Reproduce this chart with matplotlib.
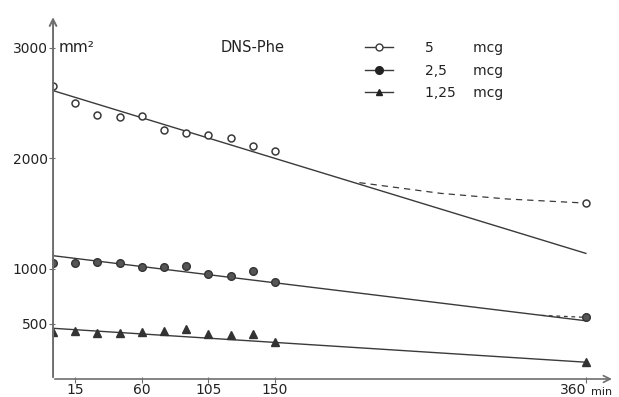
"""DNS-Phe: area de la mancha (mm2) frente al tiempo para tres dosis."""
import matplotlib
matplotlib.use("Agg")
import matplotlib.pyplot as plt
from matplotlib.lines import Line2D

# tiempos de muestreo (min)
t_obs = [0, 15, 30, 45, 60, 75, 90, 105, 120, 135, 150, 360]

# area (mm2) por dosis
area_5 = [2650, 2495, 2390, 2370, 2380, 2255, 2225, 2210, 2180, 2105, 2065, 1592]
area_25 = [1053, 1053, 1062, 1053, 1018, 1018, 1023, 947, 935, 977, 881, 558]
area_125 = [428, 437, 419, 413, 422, 437, 449, 407, 398, 404, 338, 151]

# rectas de ajuste (valor en t=0 y t=360)
t_fit = [0, 360]
fit_5 = [2610, 1137]
fit_25 = [1116, 527]
fit_125 = [459, 152]

# tramo discontinuo 5 mcg
t_dash5 = [207, 262, 307, 360]
dash_5 = [1777, 1680, 1629, 1592]
# tramo discontinuo 2,5 mcg
t_dash25 = [330, 360]
dash_25 = [576, 558]

y_ticks = [500, 1000, 2000, 3000]
x_ticks = [15, 60, 105, 150, 360]
doses = ["5", "2,5", "1,25"]

W, H = 619, 397
fig = plt.figure(figsize=(W / 100, H / 100), dpi=100)
ax = fig.add_axes([52 / W, 17 / H, (615 - 52) / W, 380 / H])
ax.set_xlim(-0.7, 379.7)
ax.set_ylim(-9, 3430)
for s in ax.spines.values():
    s.set_visible(False)

ink = "#3a3a3a"
axc = "#6e6e6e"

# ejes con flecha
ax.annotate("", xy=(0, 3300), xytext=(0, -9), xycoords="data",
            arrowprops=dict(arrowstyle="->", color=axc, lw=1.4, mutation_scale=12))
ax.annotate("", xy=(379.5, 0), xytext=(-0.7, 0),
            arrowprops=dict(arrowstyle="->", color=axc, lw=1.2, mutation_scale=12))

ax.set_xticks(x_ticks)
ax.set_xticklabels([str(v) for v in x_ticks])
ax.set_yticks(y_ticks)
ax.set_yticklabels([str(v) for v in y_ticks])
ax.tick_params(axis="both", direction="inout", length=4, color=axc,
               labelsize=10, labelcolor="#222", pad=1)
ax.tick_params(axis="x", pad=0)
ax.get_xticklabels()[-1].set_horizontalalignment("right")
ax.text(363.5, -75, "min", fontsize=8, color="#222", ha="left", va="top")
ax.text(3.5, 3000, "mm²", fontsize=11, color="#222", ha="left", va="center")
ax.text(135, 3000, "DNS-Phe", fontsize=10.5, color="#222", ha="center", va="center")

# rectas
for fit in (fit_5, fit_25, fit_125):
    ax.plot(t_fit, fit, color=ink, lw=1.0)
ax.plot(t_dash5, dash_5, color=ink, lw=0.9, ls=(0, (5, 4)))
ax.plot(t_dash25, dash_25, color=ink, lw=0.9, ls=(0, (3, 3)))

# puntos
ax.plot(t_obs, area_5, ls="none", marker="o", ms=5, mfc="white", mec=ink, mew=1.1)
ax.plot(t_obs, area_25, ls="none", marker="o", ms=5.5, mfc="#555", mec="#333")
ax.plot(t_obs, area_125, ls="none", marker="^", ms=5.5, mfc="#333", mec="#333")

handles = [
    Line2D([], [], color=ink, lw=1, marker="o", ms=5, mfc="white", mec=ink),
    Line2D([], [], color=ink, lw=1, marker="o", ms=5.5, mfc="#222", mec="#222"),
    Line2D([], [], color=ink, lw=1, marker="^", ms=5, mfc="#222", mec="#222"),
]
labels = [doses[0] + "         mcg", doses[1] + "      mcg", doses[2] + "    mcg"]
ax.legend(handles, labels, loc="upper left", bbox_to_anchor=(313 / 563, 1 - 41 / 380),
          frameon=False, fontsize=10, handlelength=2.0, handletextpad=2.3,
          labelspacing=0.62, borderpad=0, borderaxespad=0, labelcolor="#222")

fig.savefig("out.png", dpi=100, facecolor="white")
